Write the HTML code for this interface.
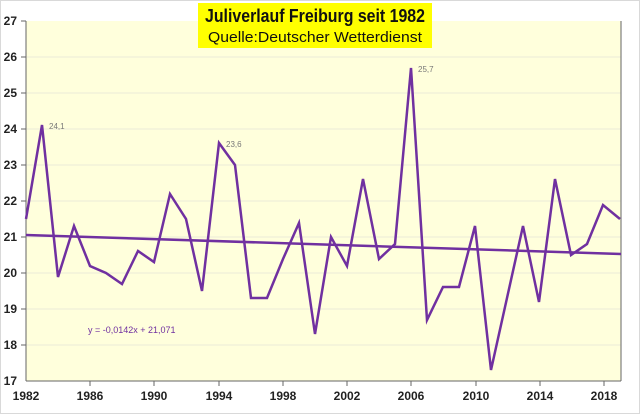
<!DOCTYPE html><html><head><style>body{margin:0;background:#fff}svg{display:block}</style></head><body>
<svg width="640" height="414" xmlns="http://www.w3.org/2000/svg" font-family="Liberation Sans, sans-serif">
<rect x="0.5" y="0.5" width="639" height="413" fill="#fff" stroke="#d9d9d9"/>
<rect x="26" y="21" width="595" height="360" fill="#ffffdc"/>
<g stroke="#ebebd8" stroke-width="1">
<line x1="26" x2="621" y1="57" y2="57"/><line x1="26" x2="621" y1="93" y2="93"/><line x1="26" x2="621" y1="129" y2="129"/><line x1="26" x2="621" y1="165" y2="165"/><line x1="26" x2="621" y1="201" y2="201"/><line x1="26" x2="621" y1="237" y2="237"/><line x1="26" x2="621" y1="273" y2="273"/><line x1="26" x2="621" y1="309" y2="309"/><line x1="26" x2="621" y1="345" y2="345"/>
</g>
<g stroke="#666" stroke-width="1">
<line x1="26" y1="21" x2="26" y2="381"/><line x1="26" y1="381" x2="621" y2="381"/><line x1="621" y1="21" x2="621" y2="381"/>
<line x1="21" x2="26" y1="21" y2="21"/><line x1="21" x2="26" y1="57" y2="57"/><line x1="21" x2="26" y1="93" y2="93"/><line x1="21" x2="26" y1="129" y2="129"/><line x1="21" x2="26" y1="165" y2="165"/><line x1="21" x2="26" y1="201" y2="201"/><line x1="21" x2="26" y1="237" y2="237"/><line x1="21" x2="26" y1="273" y2="273"/><line x1="21" x2="26" y1="309" y2="309"/><line x1="21" x2="26" y1="345" y2="345"/>
<line x1="90" x2="90" y1="381" y2="386"/><line x1="154" x2="154" y1="381" y2="386"/><line x1="219" x2="219" y1="381" y2="386"/><line x1="283" x2="283" y1="381" y2="386"/><line x1="347" x2="347" y1="381" y2="386"/><line x1="411" x2="411" y1="381" y2="386"/><line x1="476" x2="476" y1="381" y2="386"/><line x1="540" x2="540" y1="381" y2="386"/><line x1="604" x2="604" y1="381" y2="386"/>
</g>
<g font-size="12" font-weight="bold" fill="#222" text-anchor="end">
<text x="17" y="25">27</text><text x="17" y="61">26</text><text x="17" y="97">25</text><text x="17" y="133">24</text><text x="17" y="169">23</text><text x="17" y="205">22</text><text x="17" y="241">21</text><text x="17" y="277">20</text><text x="17" y="313">19</text><text x="17" y="349">18</text><text x="17" y="385">17</text>
</g>
<g font-size="12" font-weight="bold" fill="#222" text-anchor="middle">
<text x="26" y="400">1982</text><text x="90" y="400">1986</text><text x="154" y="400">1990</text><text x="219" y="400">1994</text><text x="283" y="400">1998</text><text x="347" y="400">2002</text><text x="411" y="400">2006</text><text x="476" y="400">2010</text><text x="540" y="400">2014</text><text x="604" y="400">2018</text>
</g>
<line x1="26" y1="235" x2="621" y2="254" stroke="#7030a0" stroke-width="2.5"/>
<polyline fill="none" stroke="#7030a0" stroke-width="2.5" points="26,219 42,125 58,277 74,226 90,266 106,273 122,284 138,251 154,262 170,194 186,219 202,291 219,143 235,165 251,298 267,298 283,259 299,223 315,334 331,237 347,266 363,179 379,259 395,244 411,68 427,320 443,287 459,287 475,226 491,370 507,298 523,226 539,302 555,179 571,255 587,244 603,205 620,219"/>
<g font-size="8" fill="#777"><text x="49" y="129">24,1</text><text x="226" y="147">23,6</text><text x="418" y="72">25,7</text></g>
<text x="88" y="333" font-size="9" fill="#7030a0">y = -0,0142x + 21,071</text>
<rect x="198" y="3" width="234" height="45" fill="#ffff00"/>
<text x="315" y="22" font-size="18" font-weight="bold" text-anchor="middle" fill="#111" textLength="220" lengthAdjust="spacingAndGlyphs">Juliverlauf Freiburg seit 1982</text>
<text x="315" y="42" font-size="15" text-anchor="middle" fill="#111" textLength="214" lengthAdjust="spacingAndGlyphs">Quelle:Deutscher Wetterdienst</text>
</svg></body></html>
